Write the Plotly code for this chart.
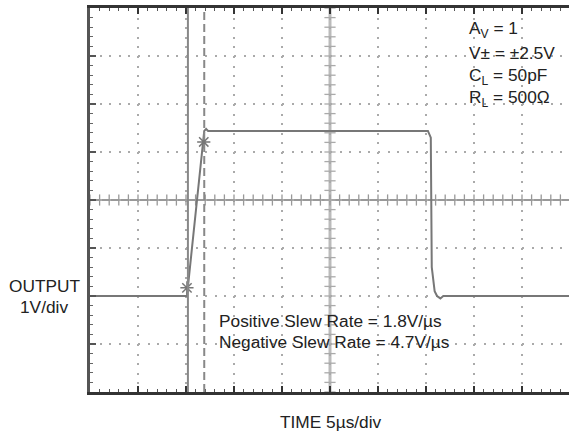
import plotly.graph_objects as go

# ---- data ----
time_us = [0, 10.1, 11.9, 12.1, 12.3, 35.2, 35.5, 35.6, 35.9, 36.15, 36.5, 36.8, 49.9]
volts = [-2.0, -2.0, 1.44, 1.48, 1.44, 1.44, 1.30, -1.40, -1.90, -2.00, -2.05, -2.0, -2.0]
marker_t = [10.1, 11.85]
marker_v = [-1.83, 1.21]
cursor_solid_t = 10.2
cursor_dashed_t = 11.9
params = ["A<sub>V</sub> = 1", "V± = ±2.5V", "C<sub>L</sub> = 50pF", "R<sub>L</sub> = 500Ω"]
slew = ["Positive Slew Rate = 1.8V/µs", "Negative Slew Rate = 4.7V/µs"]

W, H = 569, 434
L, R, T, B = 90, 0, 8, 42
PW, PH = W - L - R, H - T - B
US_PER_PX = 5 / 48.0
XMAX = PW * US_PER_PX
FONT = "Liberation Sans, Arial, sans-serif"
FS = 17.3


def px(x):
    return (x - L) / PW


def py(y):
    return (H - B - y) / PH


fig = go.Figure()

# center crosshair ticks
minor_t = [i * 1.0 for i in range(0, 50)]
minor_v = [round(-4 + 0.2 * i, 2) for i in range(41)]
fig.add_trace(go.Scatter(x=minor_t, y=[0] * len(minor_t), mode="markers",
                         marker=dict(symbol="line-ns-open", size=8, color="#999",
                                     line=dict(color="#999", width=1.3)),
                         hoverinfo="skip", showlegend=False))
fig.add_trace(go.Scatter(x=[25] * len(minor_v), y=minor_v, mode="markers",
                         marker=dict(symbol="line-ew-open", size=8, color="#aaa",
                                     line=dict(color="#aaa", width=1.3)),
                         hoverinfo="skip", showlegend=False))

# waveform
fig.add_trace(go.Scatter(x=time_us, y=volts, mode="lines",
                         line=dict(color="#777", width=2), hoverinfo="skip", showlegend=False))
fig.add_trace(go.Scatter(x=marker_t, y=marker_v, mode="markers",
                         marker=dict(symbol="asterisk-open", size=11, color="#777",
                                     line=dict(color="#777", width=1.5)),
                         hoverinfo="skip", showlegend=False))

shapes = [
    dict(type="line", xref="x", yref="paper", x0=25, x1=25, y0=0, y1=1,
         line=dict(color="#bbb", width=3), layer="below"),
    dict(type="line", xref="paper", yref="y", x0=0, x1=1, y0=0, y1=0,
         line=dict(color="#999", width=2), layer="below"),
    dict(type="line", xref="x", yref="paper", x0=cursor_solid_t, x1=cursor_solid_t, y0=0, y1=1,
         line=dict(color="#888", width=2)),
    dict(type="line", xref="x", yref="paper", x0=cursor_dashed_t, x1=cursor_dashed_t, y0=0, y1=1,
         line=dict(color="#888", width=2, dash="8px,4px")),
]

ann = []
for i, t in enumerate(params):
    ann.append(dict(x=px(467), y=py(30 + 23 * i), xref="paper", yref="paper", text=t,
                    showarrow=False, xanchor="left", yanchor="middle",
                    font=dict(family=FONT, size=FS, color="#222")))
for i, t in enumerate(slew):
    ann.append(dict(x=px(217), y=py(321 + 21 * i), xref="paper", yref="paper", text=t,
                    showarrow=False, xanchor="left", yanchor="middle",
                    font=dict(family=FONT, size=FS, color="#222")))
for t, y in [("OUTPUT", 286), ("1V/div", 307)]:
    ann.append(dict(x=px(44), y=py(y), xref="paper", yref="paper", text=t,
                    showarrow=False, xanchor="center", yanchor="middle",
                    font=dict(family=FONT, size=FS, color="#222")))
ann.append(dict(x=px(331), y=py(422), xref="paper", yref="paper", text="TIME 5µs/div",
                showarrow=False, xanchor="center", yanchor="middle",
                font=dict(family=FONT, size=FS, color="#222")))

fig.update_layout(
    width=W, height=H, margin=dict(l=L, r=R, t=T, b=B, pad=0),
    paper_bgcolor="white", plot_bgcolor="white",
    shapes=shapes, annotations=ann,
    xaxis=dict(range=[0, XMAX], tick0=0, dtick=5, showticklabels=False,
               showgrid=True, gridcolor="#aaa", gridwidth=1.5, griddash="2px,7.6px",
               zeroline=False, showline=True, linecolor="#333", linewidth=3,
               ticks="inside", ticklen=6, tickcolor="#333", tickwidth=1.5,
               minor=dict(dtick=1, ticks="inside", ticklen=3, tickcolor="#555", tickwidth=1),
               mirror="allticks", fixedrange=True),
    yaxis=dict(range=[-4, 4], tick0=0, dtick=1, showticklabels=False,
               showgrid=True, gridcolor="#aaa", gridwidth=1.5, griddash="2px,7.6px",
               zeroline=False, showline=True, linecolor="#555", linewidth=3,
               ticks="inside", ticklen=6, tickcolor="#555", tickwidth=1.5,
               minor=dict(dtick=0.2, ticks="inside", ticklen=3, tickcolor="#666", tickwidth=1),
               mirror=False, fixedrange=True),
)

fig.write_html("out.html", config={"displayModeBar": False},
               post_script="document.body.style.margin='0';document.body.style.overflow='hidden';")
